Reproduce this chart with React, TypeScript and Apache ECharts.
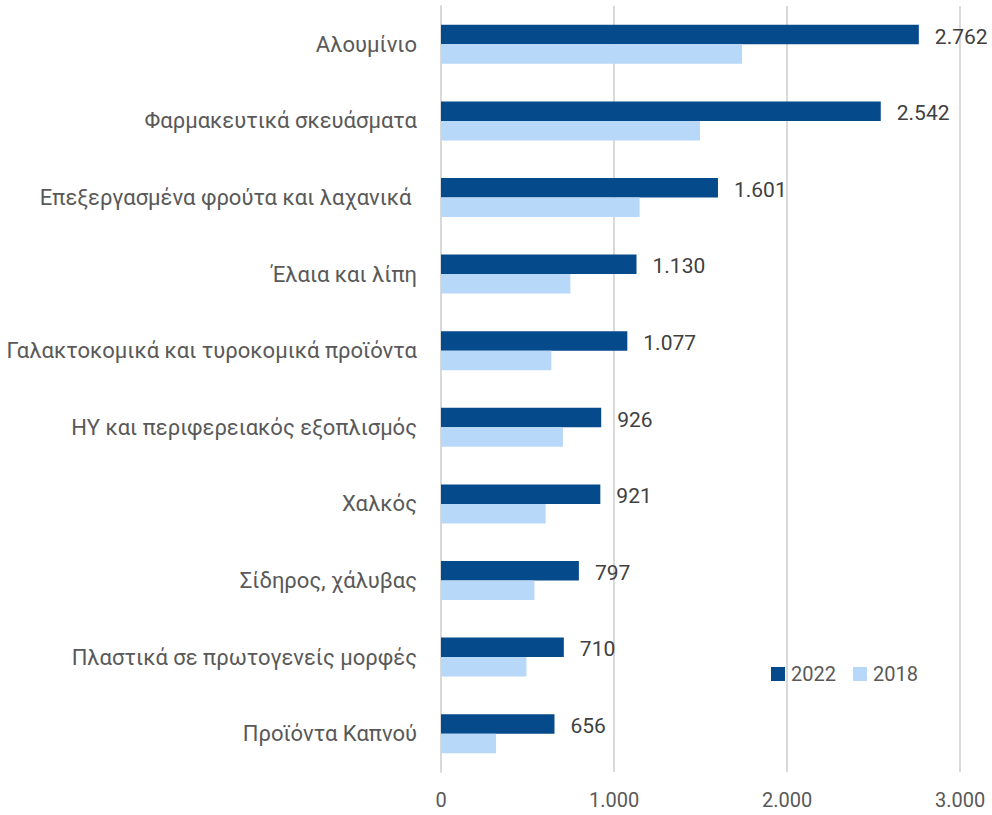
import React, { useEffect, useRef } from "react";
import * as echarts from "echarts";

const categories = [
  "Αλουμίνιο",
  "Φαρμακευτικά σκευάσματα",
  "Επεξεργασμένα φρούτα και λαχανικά ",
  "Έλαια και λίπη",
  "Γαλακτοκομικά και τυροκομικά προϊόντα",
  "ΗΥ και περιφερειακός εξοπλισμός",
  "Χαλκός",
  "Σίδηρος, χάλυβας",
  "Πλαστικά σε πρωτογενείς μορφές",
  "Προϊόντα Καπνού",
];
const values2022 = [2762, 2542, 1601, 1130, 1077, 926, 921, 797, 710, 656];
const values2018 = [1740, 1497, 1148, 748, 638, 705, 605, 540, 494, 318];
const seriesNames = ["2022", "2018"];

const fmt = (v: number) => String(Math.round(v)).replace(/\B(?=(\d{3})+(?!\d))/g, ".");

const FONT = "Roboto";

export default function App() {
  const ref = useRef<HTMLDivElement>(null);
  useEffect(() => {
    if (!ref.current) return;
    const chart = echarts.init(ref.current, null, { renderer: "svg" });
    chart.setOption({
      animation: false,
      backgroundColor: "#ffffff",
      textStyle: { fontFamily: FONT },
      grid: { left: 441, right: 32, top: 6, bottom: 43, containLabel: false },
      legend: {
        data: seriesNames,
        left: 766,
        top: 659,
        icon: "rect",
        itemWidth: 14,
        itemHeight: 14,
        itemGap: 17,
        textStyle: { fontFamily: FONT, fontSize: 20, color: "#595959", padding: [0, 0, 0, 1] },
      },
      xAxis: {
        type: "value",
        min: 0,
        max: 3000,
        interval: 1000,
        axisLine: { show: false },
        axisTick: { show: false },
        splitLine: { show: true, lineStyle: { color: "#d9d9d9", width: 2 } },
        axisLabel: {
          formatter: (v: number) => fmt(v),
          fontFamily: FONT,
          fontSize: 20,
          color: "#595959",
          margin: 18,
        },
      },
      yAxis: {
        type: "category",
        data: categories,
        inverse: true,
        axisLine: { show: true, lineStyle: { color: "#d9d9d9", width: 2 } },
        axisTick: { show: false },
        axisLabel: {
          fontFamily: FONT,
          fontSize: 22,
          color: "#595959",
          margin: 24,
        },
      },
      series: [
        {
          name: seriesNames[0],
          type: "bar",
          data: values2022,
          barWidth: 19.5,
          barGap: "0%",
          itemStyle: { color: "#054a8a" },
          label: {
            show: true,
            position: "right",
            distance: 16,
            offset: [0, 2],
            formatter: (p: any) => fmt(p.value),
            fontFamily: FONT,
            fontSize: 21,
            color: "#404040",
          },
        },
        {
          name: seriesNames[1],
          type: "bar",
          data: values2018,
          barWidth: 19.5,
          barGap: "0%",
          itemStyle: { color: "#b7d8f9" },
        },
      ],
    });
    return () => chart.dispose();
  }, []);
  return (
    <div
      ref={ref}
      style={{ position: "absolute", left: 0, top: 0, width: 992, height: 815 }}
    />
  );
}
